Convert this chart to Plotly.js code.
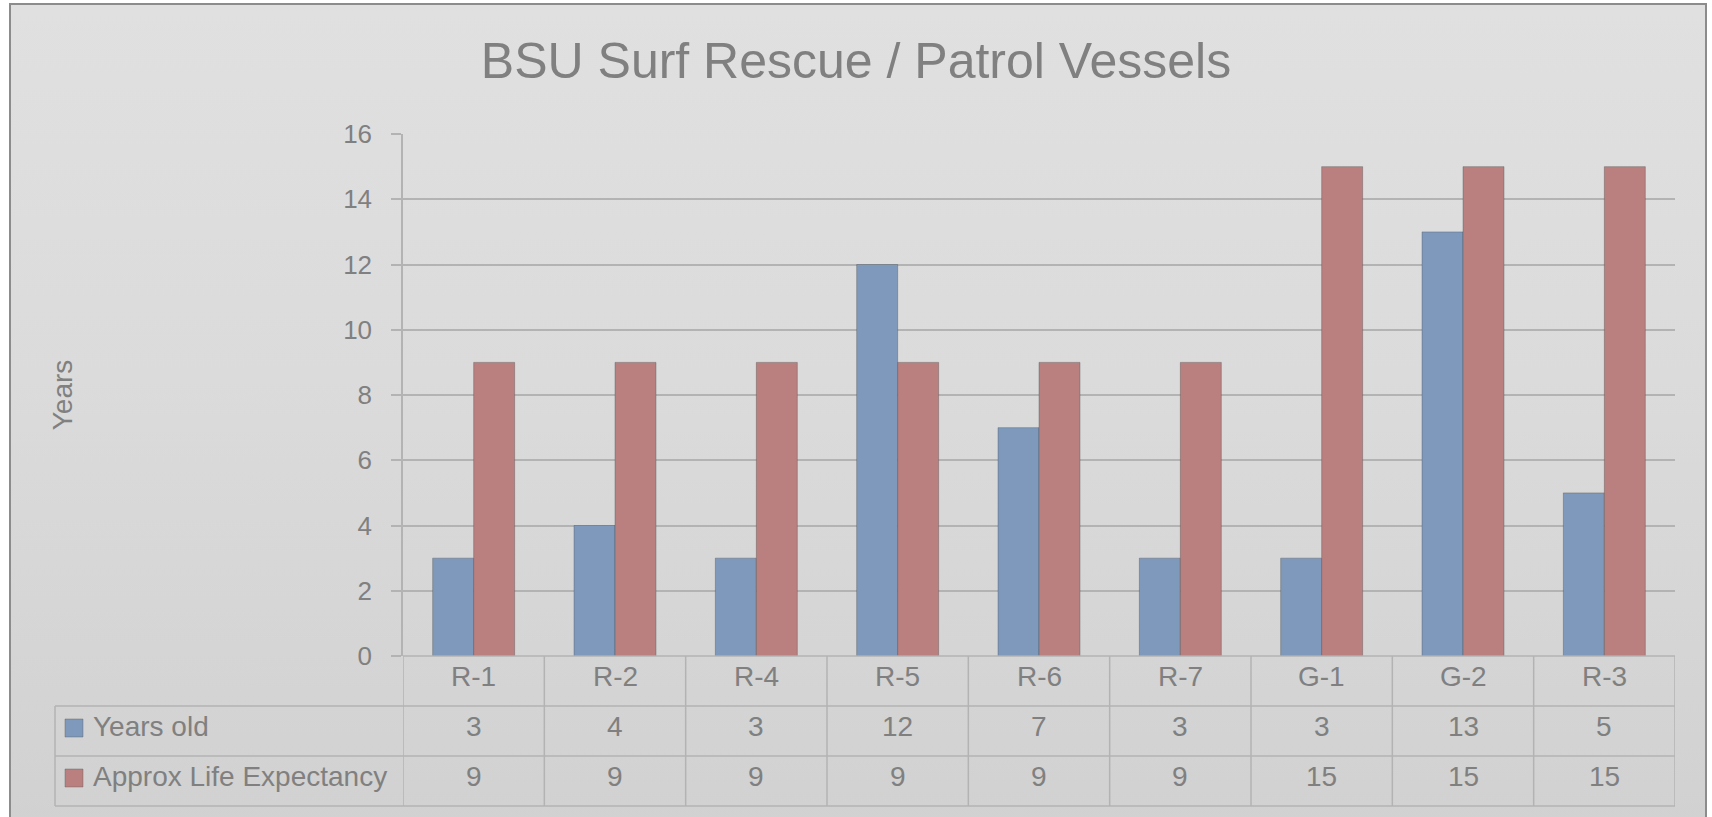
<!DOCTYPE html>
<html>
<head>
<meta charset="utf-8">
<script src="https://cdn.plot.ly/plotly-3.0.1.min.js"></script>
<style>
  html, body { margin: 0; padding: 0; background: #ffffff; width: 1712px; height: 817px; overflow: hidden; }
  #frame { position: absolute; left: 9px; top: 3px; width: 1698px; height: 830px; box-sizing: border-box;
           border: 2px solid #8c8c8c; background: linear-gradient(to bottom, #e0e0e0 0%, #dbdbdb 45%, #d1d1d1 100%); }
  #chart { position: absolute; left: 0; top: 0; width: 1712px; height: 817px; }
</style>
</head>
<body>
<div id="frame"></div>
<div id="chart"></div>
<script>
// ---- data ----
const categories = ['R-1', 'R-2', 'R-4', 'R-5', 'R-6', 'R-7', 'G-1', 'G-2', 'R-3'];
const yearsOld = [3, 4, 3, 12, 7, 3, 3, 13, 5];
const lifeExpectancy = [9, 9, 9, 9, 9, 9, 15, 15, 15];
const seriesNames = ['Years old', 'Approx Life Expectancy'];
const seriesValues = [yearsOld, lifeExpectancy];
const yTickVals = [0, 2, 4, 6, 8, 10, 12, 14, 16];
const chartTitle = 'BSU Surf Rescue / Patrol Vessels';
const yAxisTitle = 'Years';

// ---- style ----
const seriesColors = ['#7e99bb', '#ba8080'];
const textColor = '#808080';
const lineColor = '#b3b3b3';
const fontFamily = '"Liberation Sans", Arial, sans-serif';
const W = 1712, H = 817;
const M = { l: 403, r: 37, t: 134, b: 161 };
const plotH = H - M.t - M.b;
const plotW = W - M.l - M.r;
const py = Y => (H - M.b - Y) / plotH;      // pixel row -> paper y
const px = X => (X - M.l) / plotW;          // pixel col -> paper x

const traces = seriesNames.map((name, i) => ({
  type: 'bar',
  name: name,
  x: categories,
  y: seriesValues[i],
  marker: { color: seriesColors[i], line: { color: 'rgba(70,70,70,0.35)', width: 1 } },
  hoverinfo: 'x+y+name'
}));

// table geometry (pixel rows)
const rowLines = [706, 756, 806];
const rowCenters = [681, 731, 781];
const textShift = -5;
const tableLeft = 55;

const shapes = [];
shapes.push({ type: 'line', xref: 'paper', yref: 'paper', x0: 0, x1: 1, y0: 0, y1: 0,
              line: { color: lineColor, width: 1.5 } });
rowLines.forEach(Y => shapes.push({ type: 'line', xref: 'paper', yref: 'paper',
  x0: px(tableLeft), x1: 1, y0: py(Y), y1: py(Y), line: { color: lineColor, width: 1.5 } }));
for (let k = 0; k <= categories.length; k++) {
  shapes.push({ type: 'line', xref: 'x', yref: 'paper', x0: k - 0.5, x1: k - 0.5,
    y0: 0, y1: py(rowLines[rowLines.length - 1]), line: { color: lineColor, width: 1.5 } });
}
shapes.push({ type: 'line', xref: 'paper', yref: 'paper', x0: px(tableLeft), x1: px(tableLeft),
  y0: py(rowLines[0]), y1: py(rowLines[2]), line: { color: lineColor, width: 1.5 } });
seriesNames.forEach((n, i) => {
  const c = rowCenters[i + 1] - 3;
  shapes.push({ type: 'rect', xref: 'paper', yref: 'paper',
    x0: px(65), x1: px(83), y0: py(c - 9), y1: py(c + 9),
    fillcolor: seriesColors[i], line: { color: 'rgba(90,90,90,0.4)', width: 1 } });
});

const annFont = { family: fontFamily, size: 28, color: textColor };
const annotations = [];
categories.forEach((cat, j) => {
  annotations.push({ xref: 'x', yref: 'paper', x: j, y: py(rowCenters[0] + textShift), text: cat,
    showarrow: false, xanchor: 'center', yanchor: 'middle', font: annFont });
  seriesValues.forEach((vals, i) => {
    annotations.push({ xref: 'x', yref: 'paper', x: j, y: py(rowCenters[i + 1] + textShift), text: String(vals[j]),
      showarrow: false, xanchor: 'center', yanchor: 'middle', font: annFont });
  });
});
seriesNames.forEach((n, i) => {
  annotations.push({ xref: 'paper', yref: 'paper', x: px(91), y: py(rowCenters[i + 1] + textShift), text: n,
    showarrow: false, xanchor: 'left', yanchor: 'middle', font: annFont });
});

const layout = {
  width: W, height: H,
  margin: M,
  paper_bgcolor: 'rgba(0,0,0,0)',
  plot_bgcolor: 'rgba(0,0,0,0)',
  showlegend: false,
  barmode: 'group',
  bargap: 0.42,
  bargroupgap: 0,
  title: { text: chartTitle, x: 0.5, xref: 'container', xanchor: 'center',
           y: 1 - 60 / H, yref: 'container', yanchor: 'middle',
           font: { family: fontFamily, size: 50, color: textColor } },
  xaxis: { type: 'category', range: [-0.5, categories.length - 0.5], showticklabels: false,
           ticks: '', showgrid: false, showline: false, zeroline: false, fixedrange: true },
  yaxis: { range: [0, 16], tickvals: yTickVals, ticks: 'outside', ticklen: 10, tickcolor: lineColor,
           tickwidth: 1.5, ticklabelstandoff: 14,
           showgrid: true, gridcolor: lineColor, gridwidth: 1.5,
           showline: true, linecolor: lineColor, linewidth: 1.5, zeroline: false,
           tickfont: { family: fontFamily, size: 26, color: textColor },
           title: { text: yAxisTitle, standoff: 262, font: { family: fontFamily, size: 28, color: textColor } },
           fixedrange: true },
  shapes: shapes,
  annotations: annotations
};

Plotly.newPlot('chart', traces, layout, { displayModeBar: false, responsive: false });
</script>
</body>
</html>
